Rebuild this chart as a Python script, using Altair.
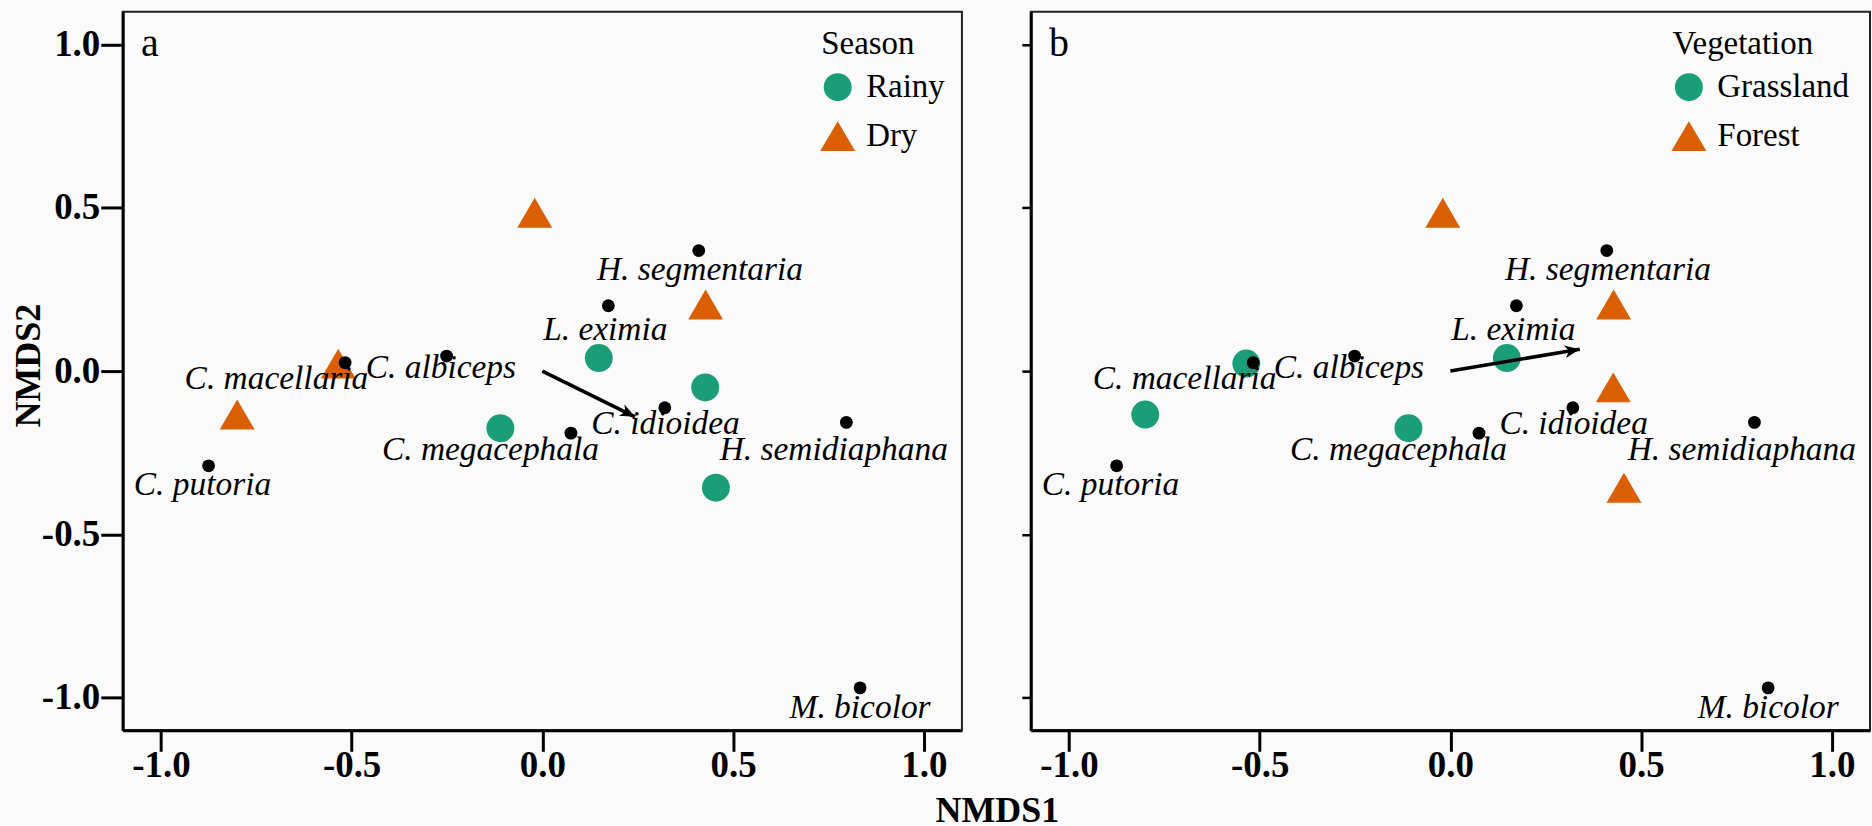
import math
import altair as alt
import pandas as pd

# ---------------- data ----------------
species = ["H. segmentaria", "L. eximia", "C. albiceps", "C. macellaria", "C. putoria",
           "C. megacephala", "C. idioidea", "H. semidiaphana", "M. bicolor"]
species_x = [0.410, 0.173, -0.251, -0.517, -0.875, 0.075, 0.321, 0.797, 0.833]
species_y = [0.369, 0.200, 0.046, 0.026, -0.290, -0.190, -0.112, -0.157, -0.970]
label_x = [0.413, 0.165, -0.266, -0.697, -0.891, -0.136, 0.323, 0.764, 0.833]
label_y = [0.310, 0.127, 0.008, -0.025, -0.350, -0.243, -0.162, -0.243, -1.031]

site_x = [0.148, 0.427, -0.110, 0.455, -0.020, 0.428, -0.535, -0.800]
site_y = [0.040, -0.050, -0.175, -0.357, 0.485, 0.204, 0.023, -0.133]
season = ["Rainy", "Rainy", "Rainy", "Rainy", "Dry", "Dry", "Dry", "Dry"]
vegetation = ["Grassland", "Forest", "Grassland", "Forest", "Forest", "Forest", "Grassland", "Grassland"]

season_order = ["Rainy", "Dry"]
vegetation_order = ["Grassland", "Forest"]

arrow_x0 = [0.0, 0.0]
arrow_y0 = [0.0, 0.0]
arrow_x1 = [0.243, 0.339]
arrow_y1 = [-0.140, 0.067]

panel_letters = ["a", "b"]
letter_x = [-1.052, -1.052]
letter_y = [0.965, 0.965]

tick_values = [-1.0, -0.5, 0.0, 0.5, 1.0]

# ---------------- styling ----------------
W, H = 841, 720
DOM = [-1.1, 1.1]
SERIF = "Liberation Serif"
GREEN, ORANGE = "#1b9e77", "#d95f02"
TRI = "M0,-1.07L1.25,1.07L-1.25,1.07Z"
HEAD = "M0,0L-1,-0.42L-0.72,0L-1,0.42Z"
LBL = "datum.value < 0 ? '-' + format(-datum.value, '.1f') : format(datum.value, '.1f')"

sites = pd.DataFrame({"x": site_x, "y": site_y, "Season": season, "Vegetation": vegetation})
spec = pd.DataFrame({"x": species_x, "y": species_y})
labs = pd.DataFrame({"x": label_x, "y": label_y, "name": species})


def panel(i, field, order, legend_x, first):
    xs = alt.Scale(domain=DOM, nice=False, zero=False)
    ys = alt.Scale(domain=DOM, nice=False, zero=False)

    xkw = dict(values=tick_values, labelExpr=LBL, grid=False, labelFont=SERIF, labelFontSize=37,
               labelFontWeight="bold", labelColor="black", tickSize=21, tickWidth=3,
               tickColor="black", domainWidth=3, domainColor="black", labelPadding=-4,
               labelFlush=False, labelOverlap=False)
    ykw = dict(values=tick_values, grid=False, tickColor="black", domainWidth=3,
               domainColor="black")
    if first:
        xkw.update(title="NMDS1", titleFont=SERIF, titleFontSize=36, titleFontWeight="bold",
                   titleColor="black", titleX=876, titleY=80, titleAlign="center",
                   titleBaseline="middle", titleAnchor="start")
        ykw.update(labelExpr=LBL, labelFont=SERIF, labelFontSize=37, labelFontWeight="bold",
                   labelColor="black", tickSize=22, tickWidth=3, labelPadding=1,
                   labelFlush=False, labelOverlap=False,
                   title="NMDS2", titleFont=SERIF, titleFontSize=36, titleFontWeight="bold",
                   titleColor="black", titleX=-94, titleY=354, titleAngle=270,
                   titleAlign="center", titleBaseline="middle", titleAnchor="start")
    else:
        xkw.update(title=" ", titleFontSize=1)
        ykw.update(labels=False, tickSize=9, tickWidth=2.5, title=" ", titleFontSize=1)

    X = alt.X("x:Q", scale=xs, axis=alt.Axis(**xkw))
    Y = alt.Y("y:Q", scale=ys, axis=alt.Axis(**ykw))

    leg = alt.Legend(title=field, orient="none", legendX=legend_x, legendY=16, padding=0,
                     titleFont=SERIF, titleFontSize=33, titleFontWeight="normal",
                     titleColor="black", titlePadding=10, labelFont=SERIF, labelFontSize=33,
                     labelColor="black", labelOffset=12, symbolSize=784, symbolStrokeWidth=0,
                     symbolOpacity=1, rowPadding=15)

    points = alt.Chart(sites).mark_point(filled=True, opacity=1, size=784, strokeWidth=0).encode(
        x=X, y=Y,
        color=alt.Color(f"{field}:N", scale=alt.Scale(domain=order, range=[GREEN, ORANGE]), legend=leg),
        shape=alt.Shape(f"{field}:N", scale=alt.Scale(domain=order, range=["circle", TRI]), legend=leg),
    )

    dots = alt.Chart(spec).mark_circle(size=165, color="black", opacity=1).encode(x=X, y=Y)

    texts = alt.Chart(labs).mark_text(font=SERIF, fontStyle="italic", fontSize=33.5, color="black",
                                      baseline="middle", align="center").encode(
        x=X, y=Y, text="name:N",
    )

    dx = (arrow_x1[i] - arrow_x0[i]) * W / 2.2
    dy = -(arrow_y1[i] - arrow_y0[i]) * H / 2.2
    ang = math.degrees(math.atan2(dy, dx)) % 360
    arr = pd.DataFrame({"x": [arrow_x0[i]], "y": [arrow_y0[i]], "x1": [arrow_x1[i]],
                        "y1": [arrow_y1[i]], "ang": [ang]})
    tip = pd.DataFrame({"x": [arrow_x1[i]], "y": [arrow_y1[i]], "ang": [ang]})

    shaft = alt.Chart(arr).mark_rule(strokeWidth=3.5, color="black").encode(
        x=X, y=Y, x2="x1:Q", y2="y1:Q",
    )
    head = alt.Chart(tip).mark_point(shape=HEAD, filled=True, size=900, color="black",
                                     opacity=1, strokeWidth=0).encode(
        x=X, y=Y, angle=alt.Angle("ang:Q", scale=None),
    )

    let = pd.DataFrame({"x": [letter_x[i]], "y": [letter_y[i]], "t": [panel_letters[i]]})
    letter = alt.Chart(let).mark_text(font=SERIF, fontSize=40, color="black", align="left",
                                      baseline="alphabetic").encode(
        x=X, y=Y, text="t:N",
    )

    return alt.layer(points, shaft, head, dots, texts, letter).properties(width=W, height=H)


pa = panel(0, "Season", season_order, 700, True)
pb = panel(1, "Vegetation", vegetation_order, 643, False)

chart = alt.hconcat(pa, pb, spacing=69, bounds="flush").resolve_scale(
    color="independent", shape="independent"
).resolve_legend(color="independent", shape="independent").properties(
    padding={"left": 10, "top": 10, "right": 1, "bottom": 0},
    background="#fafafa",
).configure_view(stroke="#222222", strokeWidth=2)

chart.save("out.html", embed_options={"renderer": "svg", "actions": False})
